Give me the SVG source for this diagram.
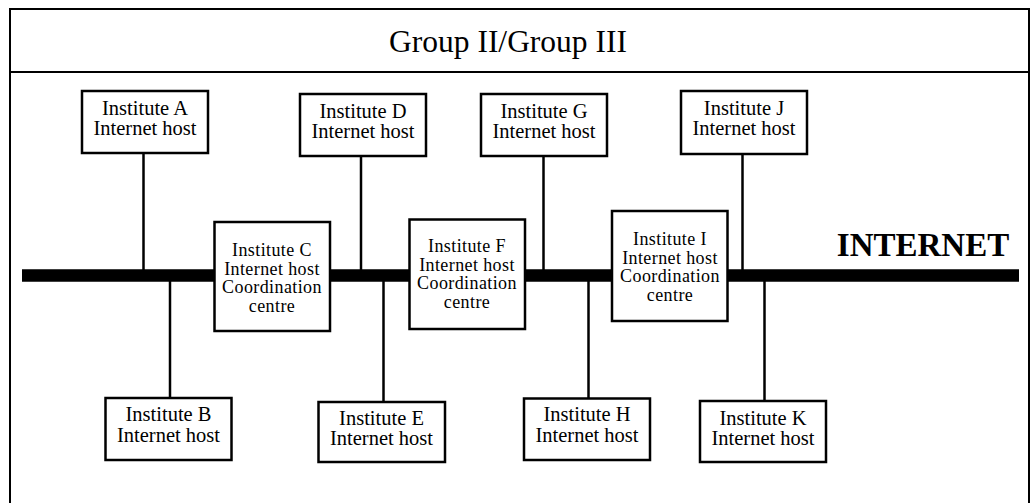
<svg xmlns="http://www.w3.org/2000/svg" width="1031" height="503" viewBox="0 0 1031 503">
<style>
.frame{fill:none;stroke:#000;stroke-width:2}
.box{fill:#fff;stroke:#000;stroke-width:2.5}
.ln{stroke:#000;stroke-width:2.5;fill:none}
.bus{stroke:#000;stroke-width:12.5;fill:none}
text{font-family:"Liberation Serif","Times New Roman",serif;fill:#000;text-anchor:middle}
.t{font-size:20.5px}
.s{font-size:18px;letter-spacing:0.4px}
</style>
<rect width="1031" height="503" fill="#fff"/>
<g id="frame">
<path class="frame" d="M10,510 V9 H1029 V510"/>
<line class="frame" x1="10" y1="72" x2="1029" y2="72"/>
<text x="508" y="52" style="font-size:31.5px">Group II/Group III</text>
</g>
<g id="connectors">
<line class="bus" x1="22" y1="275.5" x2="1019" y2="275.5"/>
<line class="ln" x1="143.5" y1="153" x2="143.5" y2="270"/>
<line class="ln" x1="361" y1="156" x2="361" y2="270"/>
<line class="ln" x1="543.5" y1="156" x2="543.5" y2="270"/>
<line class="ln" x1="742.5" y1="154" x2="742.5" y2="270"/>
<line class="ln" x1="170" y1="281" x2="170" y2="398"/>
<line class="ln" x1="383.5" y1="281" x2="383.5" y2="402"/>
<line class="ln" x1="588.5" y1="281" x2="588.5" y2="398"/>
<line class="ln" x1="764.5" y1="281" x2="764.5" y2="401"/>
</g>
<g id="internet">
<text x="923" y="256" style="font-size:33px;font-weight:bold">INTERNET</text>
</g>
<g id="nodeA">
<rect class="box" x="82" y="91" width="126" height="62"/>
<text class="t" x="145" y="115">Institute A</text>
<text class="t" x="145" y="135">Internet host</text>
</g>
<g id="nodeD">
<rect class="box" x="300" y="94" width="126" height="62"/>
<text class="t" x="363" y="118">Institute D</text>
<text class="t" x="363" y="138">Internet host</text>
</g>
<g id="nodeG">
<rect class="box" x="481" y="94" width="126" height="62"/>
<text class="t" x="544" y="118">Institute G</text>
<text class="t" x="544" y="138">Internet host</text>
</g>
<g id="nodeJ">
<rect class="box" x="681" y="91" width="126" height="63"/>
<text class="t" x="744" y="115">Institute J</text>
<text class="t" x="744" y="135">Internet host</text>
</g>
<g id="nodeC">
<rect class="box" x="214.5" y="222" width="115.5" height="109"/>
<text class="s" x="272" y="256">Institute C</text>
<text class="s" x="272" y="274.5">Internet host</text>
<text class="s" x="272" y="293">Coordination</text>
<text class="s" x="272" y="311.5">centre</text>
</g>
<g id="nodeF">
<rect class="box" x="409.5" y="219.5" width="115.5" height="109.5"/>
<text class="s" x="467" y="252">Institute F</text>
<text class="s" x="467" y="270.5">Internet host</text>
<text class="s" x="467" y="289">Coordination</text>
<text class="s" x="467" y="307.5">centre</text>
</g>
<g id="nodeI">
<rect class="box" x="612" y="211" width="115.5" height="110"/>
<text class="s" x="670" y="245">Institute I</text>
<text class="s" x="670" y="263.5">Internet host</text>
<text class="s" x="670" y="282">Coordination</text>
<text class="s" x="670" y="300.5">centre</text>
</g>
<g id="nodeB">
<rect class="box" x="105.5" y="398" width="126" height="62"/>
<text class="t" x="168.5" y="421">Institute B</text>
<text class="t" x="168.5" y="441.5">Internet host</text>
</g>
<g id="nodeE">
<rect class="box" x="318.5" y="402" width="126.5" height="60"/>
<text class="t" x="381.5" y="424.5">Institute E</text>
<text class="t" x="381.5" y="444.5">Internet host</text>
</g>
<g id="nodeH">
<rect class="box" x="524" y="398.5" width="126" height="61.5"/>
<text class="t" x="587" y="421">Institute H</text>
<text class="t" x="587" y="441.5">Internet host</text>
</g>
<g id="nodeK">
<rect class="box" x="700" y="401" width="126" height="61"/>
<text class="t" x="763" y="424.5">Institute K</text>
<text class="t" x="763" y="444.5">Internet host</text>
</g>
</svg>
